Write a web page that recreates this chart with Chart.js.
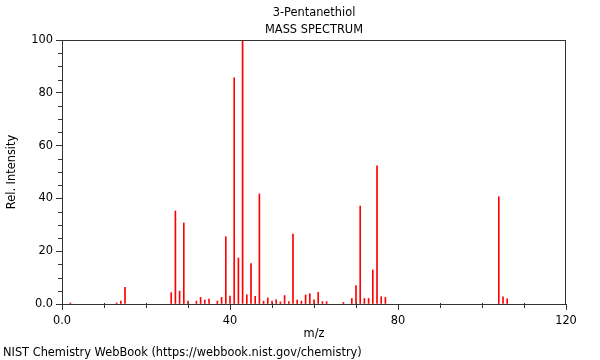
<!DOCTYPE html>
<html>
<head>
<meta charset="utf-8">
<title>3-Pentanethiol mass spectrum</title>
<script src="https://cdn.jsdelivr.net/npm/chart.js@4"></script>
<style>
  html, body { margin: 0; padding: 0; background: #fff; }
  #wrap { position: relative; width: 600px; height: 360px; }
</style>
</head>
<body>
<div id="wrap"><canvas id="msChart" width="600" height="360"></canvas></div>
<script>
// --- spectrum data ---
const mzValues = [2, 13, 14, 15, 26, 27, 28, 29, 30, 32, 33, 34, 35, 37, 38, 39, 40,
    41, 42, 43, 44, 45, 46, 47, 48, 49, 50, 51, 52, 53, 54, 55, 56, 57, 58, 59, 60,
    61, 62, 63, 67, 69, 70, 71, 72, 73, 74, 75, 76, 77, 104, 105, 106];
const relIntensity = [0.4, 0.4, 1.1, 6.3, 4.3, 35.2, 4.9, 30.7, 1.1, 1.1, 2.5, 1.5, 1.9, 1.1, 2.5, 25.5, 3.0,
    85.7, 17.4, 100, 3.5, 15.3, 2.9, 41.7, 1.1, 2.3, 1.1, 1.6, 0.8, 3.2, 0.9, 26.5, 1.5, 1.1, 3.4, 3.9, 1.6,
    4.4, 0.9, 0.9, 0.6, 2.1, 7.0, 37.1, 2.1, 2.1, 12.9, 52.3, 2.8, 2.5, 40.6, 2.7, 2.0];

const xMajorTicks = [0, 40, 80, 120];
const yMajorTicks = [0, 20, 40, 60, 80, 100];
const xMinorStep = 10;
const yMinorStep = 5;

const titleLines = ['3-Pentanethiol', 'MASS SPECTRUM'];
const xAxisTitle = 'm/z';
const yAxisTitle = 'Rel. Intensity';
const footerText = 'NIST Chemistry WebBook (https://webbook.nist.gov/chemistry)';

const FONT_SIZE = 11.4;
const FONT = FONT_SIZE + 'px "DejaVu Sans"';
const AXIS_COLOR = '#333333';

// draws titles, frame, minor ticks and footer (things Chart.js has no option for)
const decorPlugin = {
    id: 'decor',
    afterDraw(chart) {
        const { ctx, chartArea: a, scales } = chart;
        const xs = scales.x, ys = scales.y;
        ctx.save();
        ctx.strokeStyle = AXIS_COLOR;
        ctx.lineWidth = 1;

        // top + right frame
        ctx.beginPath();
        ctx.moveTo(a.left, Math.round(a.top) + 0.5);
        ctx.lineTo(a.right, Math.round(a.top) + 0.5);
        ctx.moveTo(Math.round(a.right) - 0.5, a.top);
        ctx.lineTo(Math.round(a.right) - 0.5, a.bottom);
        ctx.stroke();

        // minor ticks
        ctx.beginPath();
        for (let v = xs.min; v <= xs.max; v += xMinorStep) {
            if (xMajorTicks.includes(v)) continue;
            const px = Math.round(xs.getPixelForValue(v)) + 0.5;
            ctx.moveTo(px, a.bottom - 1);
            ctx.lineTo(px, a.bottom + 4);
        }
        for (let v = ys.min; v <= ys.max; v += yMinorStep) {
            if (yMajorTicks.includes(v)) continue;
            const py = Math.round(ys.getPixelForValue(v)) + 0.5;
            ctx.moveTo(a.left + 1, py);
            ctx.lineTo(a.left - 4, py);
        }
        ctx.stroke();

        // texts
        ctx.fillStyle = '#000';
        ctx.font = FONT;
        ctx.textAlign = 'center';
        ctx.textBaseline = 'middle';
        const cx = (a.left + a.right) / 2;
        ctx.fillText(titleLines[0], cx, 13);
        ctx.fillText(titleLines[1], cx, 30);
        ctx.fillText(xAxisTitle, cx, 334);

        ctx.save();
        ctx.translate(12, (a.top + a.bottom) / 2);
        ctx.rotate(-Math.PI / 2);
        ctx.fillText(yAxisTitle, 0, 0);
        ctx.restore();

        ctx.textAlign = 'left';
        ctx.fillText(footerText, 3, 353);
        ctx.restore();
    }
};

function tickLabel(value) {
    return value === 0 ? '0.0' : String(value);
}

const ctx = document.getElementById('msChart').getContext('2d');
new Chart(ctx, {
    type: 'bar',
    data: {
        datasets: [{
            label: 'Rel. Intensity',
            data: mzValues.map((m, i) => ({ x: m, y: relIntensity[i] })),
            backgroundColor: '#ff0000',
            borderWidth: 0,
            barThickness: 1,
            grouped: false
        }]
    },
    options: {
        responsive: false,
        animation: false,
        events: [],
        layout: { padding: { top: 40, right: 34, left: 0, bottom: 0 } },
        plugins: {
            legend: { display: false },
            tooltip: { enabled: false }
        },
        scales: {
            x: {
                type: 'linear',
                min: 0,
                max: 120,
                offset: false,
                afterFit(scale) { scale.height = 56; },
                afterBuildTicks(scale) { scale.ticks = xMajorTicks.map(v => ({ value: v })); },
                ticks: {
                    callback: tickLabel,
                    color: '#000',
                    font: { family: 'DejaVu Sans', size: FONT_SIZE },
                    padding: 4,
                    maxRotation: 0,
                    autoSkip: false
                },
                grid: {
                    offset: false,
                    drawOnChartArea: false,
                    drawTicks: true,
                    tickLength: 6,
                    tickColor: AXIS_COLOR
                },
                border: { display: true, color: AXIS_COLOR, width: 1 }
            },
            y: {
                min: 0,
                max: 100,
                afterFit(scale) { scale.width = 62; },
                afterBuildTicks(scale) { scale.ticks = yMajorTicks.map(v => ({ value: v })); },
                ticks: {
                    callback: tickLabel,
                    color: '#000',
                    font: { family: 'DejaVu Sans', size: FONT_SIZE },
                    padding: 3,
                    autoSkip: false
                },
                grid: {
                    drawOnChartArea: false,
                    drawTicks: true,
                    tickLength: 6,
                    tickColor: AXIS_COLOR
                },
                border: { display: true, color: AXIS_COLOR, width: 1 }
            }
        }
    },
    plugins: [decorPlugin]
});
</script>
</body>
</html>
